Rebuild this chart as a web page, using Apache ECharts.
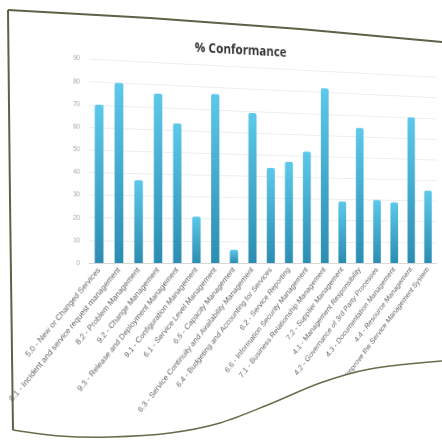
<!DOCTYPE html>
<html>
<head>
    <meta charset="utf-8">
    <title>% Conformance</title>
    <script src="https://cdn.jsdelivr.net/npm/echarts@6/dist/echarts.min.js"></script>
    <style>
        html, body {margin: 0; padding: 0; width: 442px; height: 446px; overflow: hidden; background: #fff;}
        /* the chart is drawn flat, then tilted away like the photographed page */
        #main {position: absolute; left: 0; top: 0; width: 560px; height: 446px;
               transform-origin: 0 263px; transform: perspective(1461px) rotateY(20deg);}
        #paper {position: absolute; left: 0; top: 0; width: 442px; height: 446px;}
    </style>
</head>
<body>
<div id="main"></div>
<div id="paper"></div>
<script type="text/javascript">
    var categories = [
        '5.0 - New or Changed Services',
        '8.1 - Incident and service request management',
        '8.2 - Problem Management',
        '9.2 - Change Management',
        '9.3 - Release and Deployment Management',
        '9.1 - Configuration Management',
        '6.1 - Service Level Management',
        '6.5 - Capacity Management',
        '6.3 - Service Continuity and Availability Management',
        '6.4 - Budgeting and Accounting for Services',
        '6.2 - Service Reporting',
        '6.6 - Information Security Management',
        '7.1 - Business Relationship Management',
        '7.2 - Supplier Management',
        '4.1 - Management Responsibility',
        '4.2 - Governance of 3rd Party Processes',
        '4.3 - Documentation Management',
        '4.4 - Resource Management',
        '4.5 - Establish and Improve the Service Management System'
    ];
    var conformance = [70, 80, 37, 76, 63, 21, 77, 6, 69, 44, 47, 52, 82, 29, 64, 30, 29, 70, 35];
    var yTicks = {min: 0, max: 90, step: 10};

    var chart = echarts.init(document.getElementById('main'));
    chart.setOption({
        animation: false,
        title: {
            text: '% Conformance',
            left: 268,
            top: 25,
            textAlign: 'center',
            textStyle: {fontFamily: 'Open Sans', fontSize: 14, fontWeight: 'bold', color: '#333'}
        },
        grid: {left: 97, right: 39, top: 54.4, bottom: 183},
        xAxis: {
            type: 'category',
            data: categories,
            axisLine: {lineStyle: {color: '#d6d6d6'}},
            axisTick: {show: false},
            axisLabel: {interval: 0, rotate: 48, fontSize: 8.5, color: '#666', margin: 6, fontFamily: 'Liberation Sans'}
        },
        yAxis: {
            type: 'value',
            min: yTicks.min,
            max: yTicks.max,
            interval: yTicks.step,
            axisLine: {show: false},
            axisTick: {show: false},
            axisLabel: {fontSize: 7, color: '#a5a5a5', margin: 10, fontFamily: 'Liberation Sans'},
            splitLine: {lineStyle: {color: '#ececec'}}
        },
        series: [{
            name: '% Conformance',
            type: 'bar',
            data: conformance,
            barWidth: '44%',
            itemStyle: {
                borderRadius: [2, 2, 0, 0],
                color: new echarts.graphic.LinearGradient(0, 0, 0, 1, [
                    {offset: 0, color: '#5cc8ea'},
                    {offset: 1, color: '#2b8db1'}
                ])
            }
        }]
    });

    // page edges of the photo, drawn on top
    var edge = [[13, 430], [60, 436], [110, 437], [170, 433], [220, 423], [270, 404],
                [320, 383], [370, 369], [442, 361]];
    var paper = echarts.init(document.getElementById('paper'));
    paper.setOption({
        graphic: [
            {type: 'polygon', z: 10, shape: {points: edge.concat([[442, 446], [0, 446], [0, 430]]), smooth: 0.3},
             style: {fill: '#fff'}},
            {type: 'rect', z: 10, shape: {x: 0, y: 250, width: 9, height: 196}, style: {fill: '#fff'}},
            {type: 'polyline', z: 11, shape: {points: edge, smooth: 0.3},
             style: {stroke: '#6a6b4c', lineWidth: 1.5, fill: null}},
            {type: 'polyline', z: 11, shape: {points: [[8, 10], [150, 18], [300, 29], [442, 42]]},
             style: {stroke: '#5f6048', lineWidth: 2, fill: null}},
            {type: 'polyline', z: 11, shape: {points: [[8, 10], [10, 200], [13, 430]]},
             style: {stroke: '#5f6048', lineWidth: 2, fill: null}}
        ]
    });
</script>
</body>
</html>
